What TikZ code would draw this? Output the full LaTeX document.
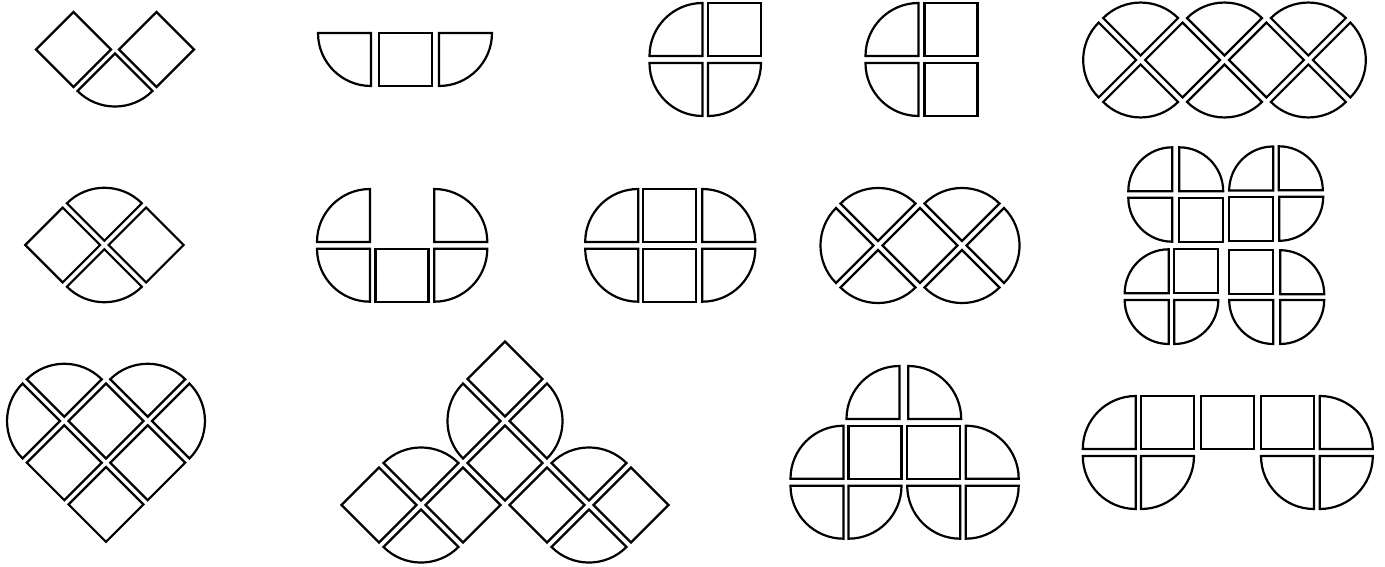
\documentclass[tikz,border=0pt]{standalone}
\tikzset{tl/.style={draw=black,line width=2.2pt,line join=miter}}
\def\hh{26.5}\def\ss{53}
\def\ox{0}\def\oy{0}\def\p{59}
\newcommand\tS[3]{\begin{scope}[shift={(#1,#2)},rotate=#3]\draw[tl] (-\hh,-\hh) -- (\hh,-\hh) -- (\hh,\hh) -- (-\hh,\hh) -- cycle;\end{scope}}
\newcommand\tQ[3]{\begin{scope}[shift={(#1,#2)},rotate=#3]\draw[tl] (-\hh,-\hh) -- (\hh,-\hh) arc[start angle=0,end angle=90,radius=\ss] -- cycle;\end{scope}}
\newcommand\gS[2]{\tS{{\ox+0.70711*\p*((#1)+(#2))}}{{\oy+0.70711*\p*((#2)-(#1))}}{-45}}
\newcommand\gQ[3]{\tQ{{\ox+0.70711*\p*((#1)+(#2))}}{{\oy+0.70711*\p*((#2)-(#1))}}{{-45+#3}}}
\begin{document}
\begin{tikzpicture}[x=1pt,y=1pt]
\begin{scope}[yscale=-1]
\fill[white] (0,0) rectangle (1385,567);
\useasboundingbox (0,0) rectangle (1385,567);
% Fig A
\def\ox{115}\def\oy{91}\def\p{58.7}
\gQ{0}{0}{90}\gS{1}{0}\gS{0}{-1}
% Fig B
\tQ{344.5}{59.5}{90}\tS{405.5}{59.5}{0}\tQ{465.5}{59.5}{0}
% Fig C
\tQ{676}{29.5}{180}\tS{734.5}{29.5}{0}\tQ{676}{89.5}{90}\tQ{734.5}{89.5}{0}
% Fig D
\tQ{892}{29.5}{180}\tS{951}{29.5}{0}\tQ{892}{89.5}{90}\tS{951}{89.5}{0}
% Fig E
\def\ox{1098.7}\def\oy{60}\def\p{59.3}
\gQ{0}{0}{180}\gQ{1}{0}{270}\gQ{0}{1}{90}\gS{1}{1}
\gQ{2}{1}{270}\gQ{1}{2}{90}\gS{2}{2}
\gQ{3}{2}{270}\gQ{2}{3}{90}\gQ{3}{3}{0}
% Fig F
\def\ox{62.7}\def\oy{245}\def\p{59}
\gS{0}{0}\gQ{1}{0}{270}\gQ{0}{1}{90}\gS{1}{1}
% Fig G
\tQ{343.5}{215.5}{180}\tQ{460.8}{215.5}{270}\tQ{343.5}{275.2}{90}\tS{402}{275.2}{0}\tQ{460.8}{275.2}{0}
% Fig H
\tQ{611.7}{215.5}{180}\tS{669.5}{215.5}{0}\tQ{728.8}{215.5}{270}
\tQ{611.7}{275.2}{90}\tS{669.5}{275.2}{0}\tQ{728.8}{275.2}{0}
% Fig I
\def\ox{836}\def\oy{245.5}\def\p{59.4}
\gQ{0}{0}{180}\gQ{1}{0}{270}\gQ{0}{1}{90}\gS{1}{1}
\gQ{2}{1}{270}\gQ{1}{2}{90}\gQ{2}{2}{0}
% Fig J
\begingroup
\def\hh{22}\def\ss{44}
\tQ{1150.3}{169.3}{180}\tQ{1201.2}{169.3}{270}\tQ{1150.3}{219.7}{90}\tS{1201.2}{219.7}{0}
\tQ{1251.2}{168.5}{180}\tQ{1300.8}{168.3}{270}\tS{1251.2}{218.8}{0}\tQ{1301.2}{218.8}{0}
\tQ{1146.7}{271.3}{180}\tS{1196.3}{271.3}{0}\tQ{1146.7}{322}{90}\tQ{1196.3}{322}{0}
\tS{1251.2}{272.2}{0}\tQ{1302.2}{272.2}{270}\tQ{1251.2}{322}{90}\tQ{1302.2}{322}{0}
\endgroup
% Fig K heart
\def\ox{106}\def\oy{421}\def\p{59}
\gS{0}{0}\gS{0}{1}\gS{-1}{0}\gS{-1}{1}
\gQ{-1}{-1}{180}\gQ{0}{-1}{270}\gQ{1}{0}{270}\gQ{1}{1}{0}
% Fig L
\def\ox{505}\def\oy{463}\def\p{59.4}
\gS{0}{0}\gQ{0}{-1}{180}\gS{1}{-1}\gQ{1}{0}{0}
\gS{-2}{-1}\gQ{-1}{-1}{270}\gQ{-2}{0}{90}\gS{-1}{0}
\gQ{1}{1}{270}\gQ{0}{2}{90}\gS{1}{2}\gS{0}{1}
% Fig M
\tQ{873}{392.5}{180}\tQ{934.7}{392.5}{270}
\tQ{817}{452.2}{180}\tS{875}{452.2}{0}\tS{933.7}{452.2}{0}\tQ{992.2}{452.2}{270}
\tQ{817}{512.2}{90}\tQ{875}{512.2}{0}\tQ{933.7}{512.2}{90}\tQ{992.2}{512.2}{0}
% Fig N
\tQ{1109.3}{422.5}{180}\tS{1167.5}{422.5}{0}\tS{1227.5}{422.5}{0}\tS{1287.5}{422.5}{0}\tQ{1346.3}{422.5}{270}
\tQ{1109.3}{482.5}{90}\tQ{1167.5}{482.5}{0}\tQ{1287.5}{482.5}{90}\tQ{1346.3}{482.5}{0}
\end{scope}
\end{tikzpicture}
\end{document}
